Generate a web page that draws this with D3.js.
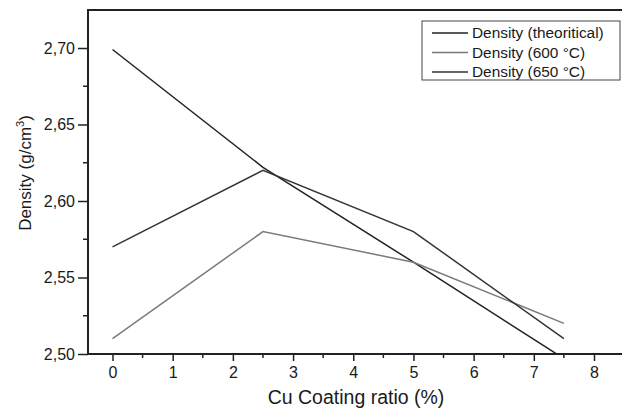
<!DOCTYPE html>
<html>
<head>
<meta charset="utf-8">
<script src="https://cdn.jsdelivr.net/npm/d3@7"></script>
<style>
  body { margin: 0; background: #fff; }
  text { font-family: "Liberation Sans", Arial, sans-serif; fill: #1a1a1a; }
</style>
</head>
<body>
<div id="chart"></div>
<script>
// Chart data
const ratios = [0, 2.5, 5, 7.5];
const densityTheoretical = [2.699, 2.622, 2.560, 2.497];
const density600 = [2.51, 2.58, 2.56, 2.52];
const density650 = [2.57, 2.62, 2.58, 2.51];
const xTicks = [0, 1, 2, 3, 4, 5, 6, 7, 8];
const yTicks = [2.50, 2.55, 2.60, 2.65, 2.70];

const series = [
  { name: "Density (theoritical)", values: densityTheoretical, color: "#222" },
  { name: "Density (600 °C)", values: density600, color: "#7a7a7a" },
  { name: "Density (650 °C)", values: density650, color: "#333" }
];

const width = 622, height = 410;
const plotLeft = 88, plotTop = 10, plotBottom = 354, plotRight = 622;

const svg = d3.select("#chart").append("svg")
  .attr("width", width).attr("height", height);

// x: 0 sits at 112.5, 8 at 594
const x = d3.scaleLinear().domain([0, 8]).range([112.5, 594]);
const xMin = x.invert(plotLeft), xMax = x.invert(plotRight);
x.domain([xMin, xMax]).range([plotLeft, plotRight]);

const y = d3.scaleLinear().domain([2.50, 2.70]).range([plotBottom, 48]);

const fmt = d => d3.format(".2f")(d).replace(".", ",");

// clip for lines
svg.append("clipPath").attr("id", "plot")
  .append("rect").attr("x", plotLeft).attr("y", plotTop)
  .attr("width", plotRight - plotLeft).attr("height", plotBottom - plotTop);

// y axis
const yAxis = svg.append("g")
  .attr("transform", `translate(${plotLeft},0)`)
  .call(d3.axisLeft(y).tickValues(yTicks).tickFormat(fmt).tickSize(10).tickPadding(3));
yAxis.select(".domain").remove();
yAxis.selectAll(".tick line").attr("stroke", "#222").attr("stroke-width", 1.5);
yAxis.selectAll(".tick text").attr("font-size", 16);

// y minor ticks
svg.append("g").selectAll("line")
  .data([2.525, 2.575, 2.625, 2.675, 2.725].filter(v => y(v) >= plotTop))
  .join("line")
  .attr("x1", plotLeft - 5).attr("x2", plotLeft)
  .attr("y1", d => y(d)).attr("y2", d => y(d))
  .attr("stroke", "#222").attr("stroke-width", 1.5);

// x axis
const xAxis = svg.append("g")
  .attr("transform", `translate(0,${plotBottom})`)
  .call(d3.axisBottom(x).tickValues(xTicks).tickFormat(d3.format("d")).tickSize(7).tickPadding(6));
xAxis.select(".domain").remove();
xAxis.selectAll(".tick line").attr("stroke", "#222").attr("stroke-width", 1.5);
xAxis.selectAll(".tick text").attr("font-size", 16);

svg.append("g").selectAll("line")
  .data(d3.range(0.5, 8.5, 1))
  .join("line")
  .attr("x1", d => x(d)).attr("x2", d => x(d))
  .attr("y1", plotBottom).attr("y2", plotBottom + 4)
  .attr("stroke", "#222").attr("stroke-width", 1.5);

// frame: left, bottom, top
svg.append("path")
  .attr("d", `M${plotRight},${plotTop}H${plotLeft}V${plotBottom}H${plotRight}`)
  .attr("fill", "none").attr("stroke", "#222").attr("stroke-width", 2);

// lines
const line = d3.line()
  .x((d, i) => x(ratios[i]))
  .y(d => y(d));

svg.append("g").attr("clip-path", "url(#plot)")
  .selectAll("path")
  .data(series)
  .join("path")
  .attr("d", d => line(d.values))
  .attr("fill", "none")
  .attr("stroke", d => d.color)
  .attr("stroke-width", 1.5);

// axis titles
svg.append("text")
  .attr("x", 356).attr("y", 404)
  .attr("text-anchor", "middle").attr("font-size", 19.5)
  .text("Cu Coating ratio (%)");

const yt = svg.append("text")
  .attr("transform", "translate(31,173) rotate(-90)")
  .attr("text-anchor", "middle").attr("font-size", 17);
yt.append("tspan").text("Density (g/cm");
yt.append("tspan").attr("font-size", 11).attr("dy", -7).text("3");
yt.append("tspan").attr("dy", 7).text(")");

// legend
const legend = svg.append("g");
legend.append("rect")
  .attr("x", 422).attr("y", 21).attr("width", 198).attr("height", 59)
  .attr("fill", "#fff").attr("stroke", "#444").attr("stroke-width", 1);

const rows = legend.selectAll("g.item")
  .data(series)
  .join("g").attr("class", "item")
  .attr("transform", (d, i) => `translate(0,${33 + i * 19.5})`);
rows.append("line")
  .attr("x1", 432).attr("x2", 468)
  .attr("stroke", d => d.color).attr("stroke-width", 1.5);
rows.append("text")
  .attr("x", 472).attr("dy", "0.35em").attr("font-size", 15.4)
  .text(d => d.name);
</script>
</body>
</html>
